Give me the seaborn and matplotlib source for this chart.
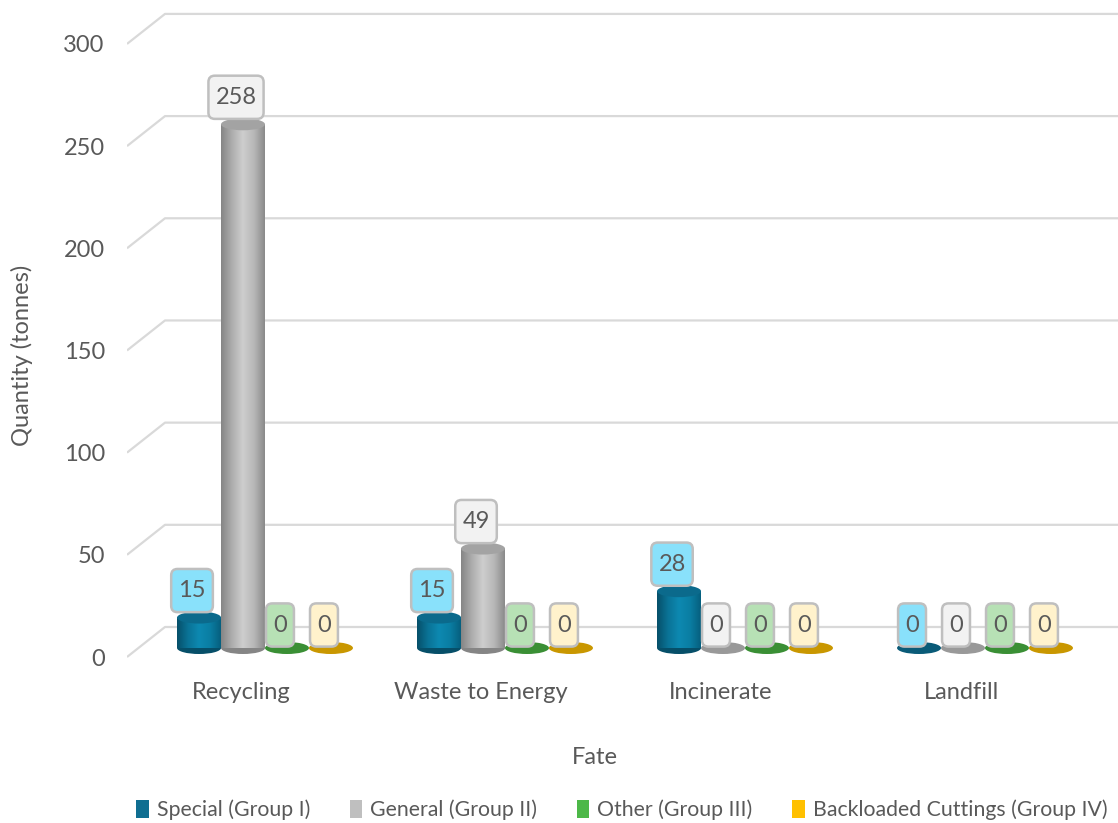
import numpy as np
import pandas as pd
import matplotlib
matplotlib.use("Agg")
import matplotlib.pyplot as plt
import seaborn as sns
from matplotlib.patches import Ellipse, Patch, BoxStyle
from matplotlib.colors import LinearSegmentedColormap
from matplotlib.transforms import ScaledTranslation

# ---- data -------------------------------------------------------------
fates = ["Recycling", "Waste to Energy", "Incinerate", "Landfill"]
groups = ["Special (Group I)", "General (Group II)",
          "Other (Group III)", "Backloaded Cuttings (Group IV)"]
special = [15, 15, 28, 0]
general = [258, 49, 0, 0]
other = [0, 0, 0, 0]
backloaded = [0, 0, 0, 0]
y_ticks = [0, 50, 100, 150, 200, 250, 300]

df = pd.DataFrame({
    "Fate": fates * 4,
    "Group": np.repeat(groups, len(fates)),
    "Quantity": special + general + other + backloaded,
})

# ---- styling ----------------------------------------------------------
sns.set_theme(style="white")
plt.rcParams["font.family"] = ["Lato", "DejaVu Sans"]
TXT = "#595959"
FS = 17

legend_colors = ["#0f6e91", "#bfbfbf", "#4db848", "#ffc000"]
flat_colors = ["#0a5b78", "#999999", "#3a8f35", "#c99700"]
top_colors = ["#0b6a8c", "#a3a3a3", "#45a540", "#e0ab00"]
label_fills = ["#89e1fb", "#f2f2f2", "#b7e1b5", "#fff2cc"]
body_ramps = [
    ["#064f69", "#0a7396", "#0d89b1", "#0a7ea3", "#065f7e"],
    ["#858585", "#adadad", "#cecece", "#b8b8b8", "#8a8a8a"],
    ["#2f7d2b", "#45a540", "#62c25c", "#4cae46", "#327f2e"],
    ["#b98b00", "#e0ab00", "#ffc933", "#e8b200", "#bd8e00"],
]


def label_box(x0, y0, width, height, mutation_size):
    """Rounded box with more vertical than horizontal padding."""
    px, py = 0.3 * mutation_size, 0.47 * mutation_size
    return BoxStyle.Round(pad=0, rounding_size=0.27)(
        x0 - px, y0 - py, width + 2 * px, height + 2 * py, mutation_size)


W, H = 1118, 823
fig = plt.figure(figsize=(W / 100, H / 100), dpi=100)
fig.patch.set_facecolor("white")

# ---- back wall with value axis and perspective gridlines --------------
wall = fig.add_axes([127 / W, 1 - 670 / H, (W - 127) / W, 660 / H])
wall.set_xlim(0, 1)
wall.set_ylim(-6.36, 316.6)
wall.patch.set_alpha(0)
for s in wall.spines.values():
    s.set_visible(False)
wall.set_xticks([])
wall.set_yticks(y_ticks)
wall.set_yticklabels([str(v) for v in y_ticks])
wall.tick_params(axis="y", length=0, pad=16, labelsize=FS, labelcolor=TXT)
rise = 30 / 2.043
for v in y_ticks:
    wall.plot([0, 38 / 991, 1], [v, v + rise, v + rise],
              color="#d9d9d9", lw=1.6, solid_capstyle="butt", zorder=0)

# ---- bars -------------------------------------------------------------
ax = fig.add_axes([145 / W, 1 - 660 / H, 960 / W, 650 / H])
ax.patch.set_alpha(0)
sns.barplot(data=df, x="Fate", y="Quantity", hue="Group", hue_order=groups,
            order=fates, palette=legend_colors, saturation=1, width=0.733,
            dodge=True, legend=False, ax=ax, errorbar=None)
ylim = (-5.91, 314.3)
xlim = (-0.5, 3.5)
ell_h = 12 / 2.03

for k, cont in enumerate(ax.containers):
    cmap = LinearSegmentedColormap.from_list(f"cyl{k}", body_ramps[k])
    grad = np.linspace(0, 1, 256).reshape(1, -1)
    for bar in cont:
        x0, w, h = bar.get_x(), bar.get_width(), bar.get_height()
        cx = x0 + w / 2
        bar.set_alpha(0)
        if h > 0:
            ax.imshow(grad, cmap=cmap, aspect="auto", extent=[x0, x0 + w, 0, h],
                      zorder=2 + k * 0.01, interpolation="bilinear")
            ax.add_patch(Ellipse((cx, 0), w, ell_h, fc=body_ramps[k][0],
                                 ec="none", zorder=1.9))
            ax.add_patch(Ellipse((cx, h), w, ell_h, fc=top_colors[k],
                                 ec="none", zorder=2.5 + k * 0.01))
            off = 27
        else:
            ax.add_patch(Ellipse((cx, 0), w, ell_h, fc=flat_colors[k],
                                 ec="none", zorder=1.8 + k * 0.01))
            off = 23
        ax.annotate(f"{h:.0f}", (cx, h), xytext=(-7, off),
                    textcoords="offset pixels", ha="center", va="center",
                    fontsize=FS, color=TXT, zorder=5,
                    bbox=dict(boxstyle=label_box, fc=label_fills[k],
                              ec="#bfbfbf", lw=1.8))

ax.set_xlim(*xlim)
ax.set_ylim(*ylim)
ax.set_yticks([])
ax.set_xlabel("")
ax.set_ylabel("")
for s in ax.spines.values():
    s.set_visible(False)
ax.tick_params(axis="x", length=0, pad=16, labelsize=FS, labelcolor=TXT)
shift = ScaledTranslation(-0.24, 0, fig.dpi_scale_trans)
for lab in ax.get_xticklabels():
    lab.set_transform(lab.get_transform() + shift)

# ---- titles and legend --------------------------------------------------
fig.text(595 / W, 1 - 758 / H, "Fate", ha="center", va="center",
         fontsize=FS, color=TXT)
fig.text(22 / W, 1 - 355 / H, "Quantity (tonnes)", ha="center", va="center",
         rotation=90, fontsize=FS, color=TXT)

handles = [Patch(fc=c, ec="none") for c in legend_colors]
fig.legend(handles, groups, loc="center left",
           bbox_to_anchor=(136 / W, 1 - 810 / H), ncol=4, frameon=False,
           fontsize=15.3, labelcolor=TXT, handlelength=0.6, handleheight=0.9,
           handletextpad=0.38, columnspacing=1.85, borderpad=0,
           borderaxespad=0)

fig.savefig("out.png", dpi=100)
